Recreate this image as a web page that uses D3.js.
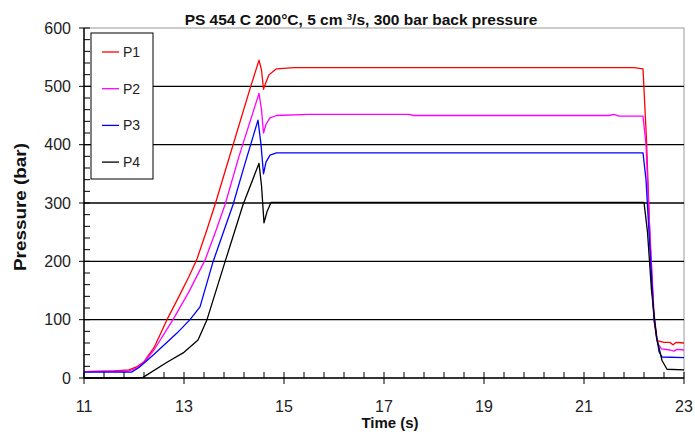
<!DOCTYPE html>
<html>
<head>
<meta charset="utf-8">
<script src="https://cdn.jsdelivr.net/npm/d3@7"></script>
<style>
  body { margin: 0; background: #fff; }
  svg { font-family: "Liberation Sans", Arial, sans-serif; }
</style>
</head>
<body>
<svg id="chart" width="695" height="432"></svg>
<script>
// readings: [time (s), pressure (bar)]
var p1 = [[11,11],[11.6,12],[11.9,14],[12.05,19],[12.2,28],[12.4,52],[12.66,100],[12.9,140],[13.1,174],
  [13.26,204],[13.45,252],[13.62,297],[14.0,405],[14.3,490],[14.5,545],[14.55,528],[14.59,495],[14.63,505],
  [14.7,520],[14.85,530],[15.2,532],[18,532],[22.0,532],[22.18,530],[22.25,408],[22.32,237],[22.4,100],
  [22.46,64],[22.6,61],[22.72,61],[22.78,57],[22.84,61],[23,60]];
var p2 = [[11,11],[11.9,12],[12.05,17],[12.2,27],[12.4,48],[12.78,100],[13.1,148],[13.42,202],[13.62,248],
  [13.82,297],[14.1,380],[14.5,488],[14.55,460],[14.59,420],[14.64,435],[14.72,446],[14.85,450],[15.5,452],
  [17.5,452],[17.6,450],[21.5,450],[21.6,452],[21.7,449],[22.18,449],[22.24,400],[22.3,280],[22.4,110],
  [22.47,60],[22.55,50],[22.72,48],[22.8,46],[22.86,49],[23,48]];
var p3 = [[11,10],[11.95,10],[12.1,18],[12.38,39],[12.86,77],[13.12,100],[13.32,122],[13.58,199],
  [13.98,297],[14.2,362],[14.48,442],[14.54,400],[14.59,350],[14.64,370],[14.72,382],[14.85,386],
  [22.18,386],[22.24,340],[22.32,220],[22.4,100],[22.5,45],[22.56,36],[23,35]];
var p4 = [[11,0],[12.0,0],[12.18,1],[12.66,27],[13.0,44],[13.28,65],[13.46,100],[13.82,199],[14.18,297],
  [14.5,368],[14.55,330],[14.6,266],[14.66,285],[14.74,301],[22.2,301],[22.27,250],[22.35,150],
  [22.45,70],[22.56,30],[22.66,15],[23,14]];

var seriesNames = ["P1", "P2", "P3", "P4"];
var seriesColors = ["#ff0000", "#ff00ff", "#0000ff", "#000000"];
var series = [p1, p2, p3, p4];

var xTicks = [11, 13, 15, 17, 19, 21, 23];
var yTicks = [0, 100, 200, 300, 400, 500, 600];

var plotL = 84, plotR = 684, plotT = 28, plotB = 378;

var svg = d3.select("#chart");

var x = d3.scaleLinear().domain([11, 23]).range([plotL, plotR]);
var y = d3.scaleLinear().domain([0, 600]).range([plotB, plotT]);

// frame (top and right sides are grey)
svg.append("rect")
  .attr("x", plotL).attr("y", plotT)
  .attr("width", plotR - plotL).attr("height", plotB - plotT)
  .attr("fill", "none").attr("stroke", "#999").attr("stroke-width", 1);

// horizontal grid
svg.append("g").selectAll("line")
  .data(yTicks.filter(function(d) { return d > 0 && d < 600; }))
  .enter().append("line")
  .attr("x1", plotL).attr("x2", plotR)
  .attr("y1", function(d) { return y(d); }).attr("y2", function(d) { return y(d); })
  .attr("stroke", "#000").attr("stroke-width", 1.4);

// curves
var line = d3.line()
  .x(function(d) { return x(d[0]); })
  .y(function(d) { return y(d[1]); });

svg.append("g").selectAll("path")
  .data(series)
  .enter().append("path")
  .attr("d", line)
  .attr("fill", "none")
  .attr("stroke", function(d, i) { return seriesColors[i]; })
  .attr("stroke-width", 1.3)
  .attr("stroke-linejoin", "round");

// minor ticks point inward, major ticks cross the axis
var yMinor = d3.range(0, 601, 20);
svg.append("g").selectAll("line")
  .data(yMinor)
  .enter().append("line")
  .attr("x1", function(d) { return d % 100 === 0 ? plotL - 5 : plotL; })
  .attr("x2", plotL + 6)
  .attr("y1", function(d) { return y(d); }).attr("y2", function(d) { return y(d); })
  .attr("stroke", "#000").attr("stroke-width", 1);

var xMinor = d3.range(11, 23.001, 0.4);
svg.append("g").selectAll("line")
  .data(xMinor)
  .enter().append("line")
  .attr("x1", function(d) { return x(d); }).attr("x2", function(d) { return x(d); })
  .attr("y1", plotB - 6)
  .attr("y2", function(d) { return Math.abs((d - 11) / 2 - Math.round((d - 11) / 2)) < 0.01 ? plotB + 6 : plotB; })
  .attr("stroke", "#000").attr("stroke-width", 1);

svg.append("line")
  .attr("x1", plotL).attr("x2", plotL).attr("y1", plotT).attr("y2", plotB)
  .attr("stroke", "#000").attr("stroke-width", 1.4);
svg.append("line")
  .attr("x1", plotL).attr("x2", plotR).attr("y1", plotB).attr("y2", plotB)
  .attr("stroke", "#000").attr("stroke-width", 1.4);

// tick labels
svg.append("g").selectAll("text")
  .data(yTicks)
  .enter().append("text")
  .attr("x", plotL - 13).attr("y", function(d) { return y(d) + 5.5; })
  .attr("text-anchor", "end")
  .attr("font-size", 16)
  .attr("fill", "#222")
  .text(function(d) { return d; });

svg.append("g").selectAll("text")
  .data(xTicks)
  .enter().append("text")
  .attr("x", function(d) { return x(d); }).attr("y", plotB + 34)
  .attr("text-anchor", "middle")
  .attr("font-size", 16)
  .attr("fill", "#222")
  .text(function(d) { return d; });

// titles
svg.append("text")
  .attr("x", 361).attr("y", 25)
  .attr("text-anchor", "middle")
  .attr("font-size", 15.5).attr("font-weight", "bold")
  .attr("fill", "#111")
  .html('PS 454 C 200°C, 5 cm <tspan dy="-5" font-size="9.5">3</tspan><tspan dy="5">/s, 300 bar back pressure</tspan>');

svg.append("text")
  .attr("x", 390).attr("y", 428)
  .attr("text-anchor", "middle")
  .attr("font-size", 15).attr("font-weight", "bold")
  .attr("fill", "#111")
  .text("Time (s)");

svg.append("text")
  .attr("transform", "translate(26,207) rotate(-90)")
  .attr("text-anchor", "middle")
  .attr("font-size", 16).attr("font-weight", "bold")
  .attr("fill", "#111")
  .attr("textLength", 128).attr("lengthAdjust", "spacingAndGlyphs")
  .text("Pressure (bar)");

// legend
var legend = svg.append("g");
legend.append("rect")
  .attr("x", 91).attr("y", 33).attr("width", 62).attr("height", 146)
  .attr("fill", "#fff").attr("stroke", "#000").attr("stroke-width", 1);

var entry = legend.selectAll("g.entry")
  .data(seriesNames)
  .enter().append("g")
  .attr("class", "entry")
  .attr("transform", function(d, i) { return "translate(0," + (52 + i * 36.7) + ")"; });

entry.append("line")
  .attr("x1", 102).attr("x2", 119)
  .attr("stroke", function(d, i) { return seriesColors[i]; })
  .attr("stroke-width", 1.3);

entry.append("text")
  .attr("x", 123).attr("y", 5)
  .attr("font-size", 14)
  .attr("fill", "#222")
  .text(function(d) { return d; });
</script>
</body>
</html>
